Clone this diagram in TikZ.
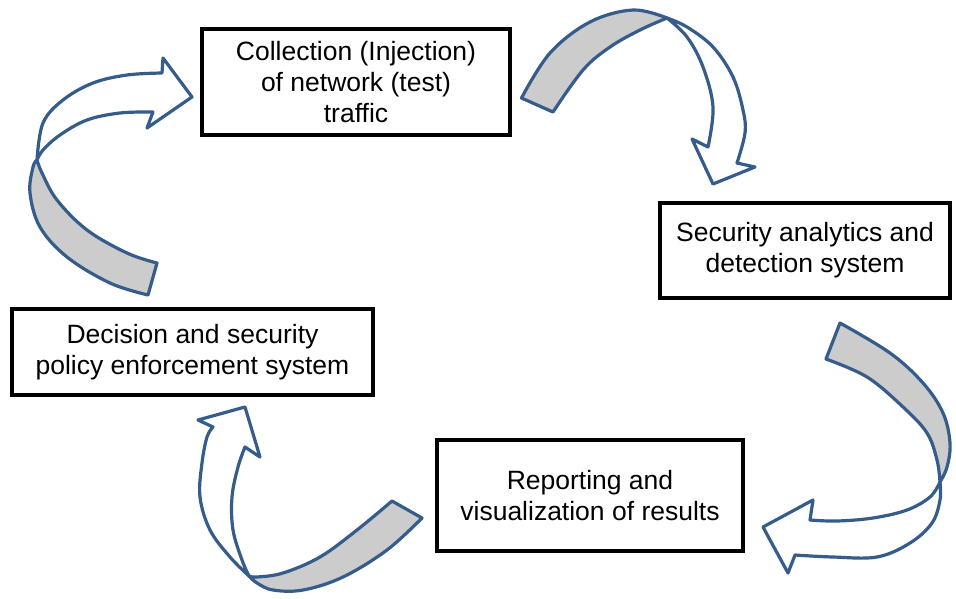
\documentclass[tikz,border=0pt]{standalone}
\usepackage{fontspec}
\setmainfont{Liberation Sans}
\definecolor{arrowblue}{RGB}{54,92,140}
\definecolor{bandgray}{RGB}{204,204,204}
\begin{document}
\begin{tikzpicture}[x=1pt,y=-1pt,
  box/.style={draw=black, line width=3.8pt, fill=white, inner sep=0pt, outer sep=0pt,
              align=center, font=\fontsize{26.5}{31}\selectfont},
  back/.style={draw=arrowblue, fill=bandgray, line width=3.2pt, line join=round},
  front/.style={draw=arrowblue, fill=white, line width=3.2pt, line join=round},
  sm/.style={smooth, tension=0.6}]
\fill[white] (0,0) rectangle (956,598);
\useasboundingbox (0,0) rectangle (956,598);

% boxes
\node[box, minimum width=308pt, minimum height=106pt] (collect) at (356,82)
  {Collection (Injection)\\of network (test)\\traffic};
\node[box, minimum width=290pt, minimum height=95pt] (analytics) at (805,250.5)
  {Security analytics and\\detection system};
\node[box, minimum width=306pt, minimum height=111pt] (report) at (590,495.5)
  {Reporting and\\visualization of results};
\node[box, minimum width=361pt, minimum height=86pt] (decision) at (192.5,352)
  {Decision and security\\policy enforcement system};

% arrow 1 (top right)
\filldraw[back] plot[sm] coordinates {(521.5,98) (550,53) (590,22) (633,10) (667,18)}
  -- plot[sm] coordinates {(667,18) (640,30) (610,47) (583,70) (553,112)} -- cycle;
\filldraw[front] plot[sm] coordinates {(667,18) (687,27) (713,47) (733,77) (743,110) (745,133) (737,163)}
  -- (755,167) -- (713,184) -- (692,139) -- (708,147)
  -- plot[sm] coordinates {(708,147) (713,107) (703,67) (687,37) (667,18)} -- cycle;

% arrow 2 (right)
\filldraw[back] plot[sm] coordinates {(840,323) (890,353) (923,383) (943,413) (950,443) (947,467) (940,482)}
  -- plot[sm] coordinates {(940,482) (937,460) (927,433) (903,407) (867,377) (826,359)} -- cycle;
\filldraw[front] plot[sm] coordinates {(940,482) (930,497) (907,510) (873,518) (837,521) (810,520)}
  -- (813,500) -- (763,527) -- (788,573) -- (795,555)
  -- plot[sm] coordinates {(795,555) (833,557) (877,557) (910,543) (932,523) (940,500) (940,482)} -- cycle;

% arrow 3 (bottom)
\filldraw[back] plot[sm] coordinates {(392,501) (357,530) (320,557) (283,573) (257,577) (249,576)}
  -- plot[sm] coordinates {(249,576) (257,583) (273,590) (303,590) (343,577) (387,550) (422,518)} -- cycle;
\filldraw[front] plot[sm] coordinates {(249,576) (230,557) (210,530) (200,497) (202,463) (207,437) (213,427)}
  -- (198,420) -- (245,407) -- (260,457) -- (245,447)
  -- plot[sm] coordinates {(245,447) (238,467) (232,497) (233,530) (242,560) (249,576)} -- cycle;

% arrow 4 (left)
\filldraw[back] plot[sm] coordinates {(157,263) (127,253) (87,230) (57,200) (42,173) (37,160)}
  -- plot[sm] coordinates {(37,160) (33,167) (30,193) (40,227) (67,257) (110,283) (148,295)} -- cycle;
\filldraw[front] plot[sm] coordinates {(37,160) (43,123) (63,100) (93,83) (127,75) (162,73)}
  -- (163,58) -- (192,97) -- (147,128) -- (153,112)
  -- plot[sm] coordinates {(153,112) (120,113) (87,120) (60,135) (43,150) (37,160)} -- cycle;
\end{tikzpicture}
\end{document}
